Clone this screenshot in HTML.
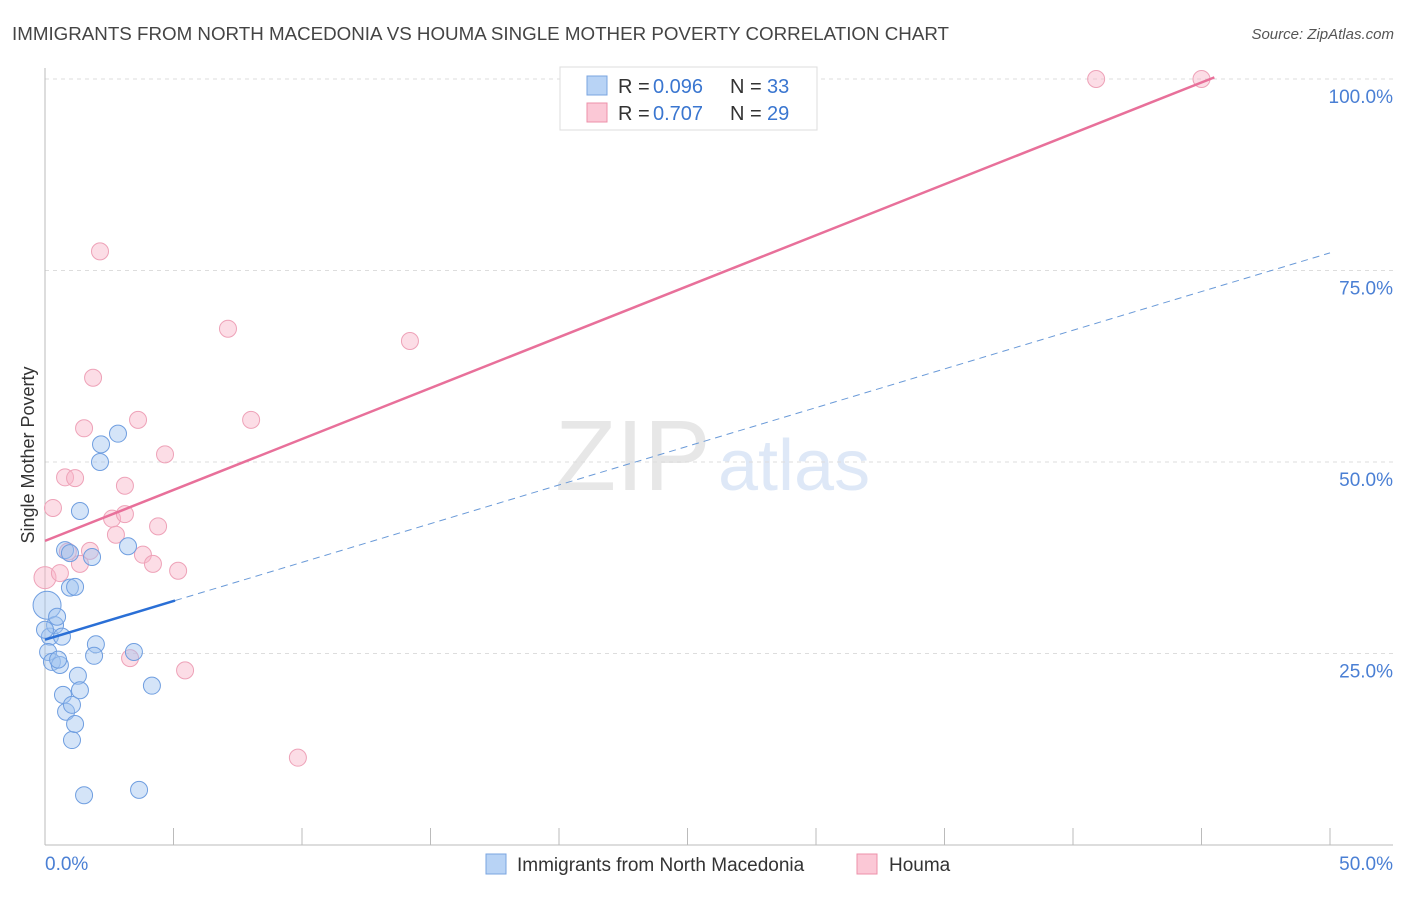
<!DOCTYPE html>
<html><head><meta charset="utf-8">
<style>
body{margin:0;background:#fff;font-family:"Liberation Sans",sans-serif;}
svg text{font-family:"Liberation Sans",sans-serif;}
</style></head>
<body>
<svg id="chart" width="1406" height="892" xmlns="http://www.w3.org/2000/svg">
<text x="12" y="40" font-size="18" fill="#444" textLength="937" lengthAdjust="spacingAndGlyphs">IMMIGRANTS FROM NORTH MACEDONIA VS HOUMA SINGLE MOTHER POVERTY CORRELATION CHART</text>
<text x="1394" y="39" font-size="15" fill="#555" font-style="italic" text-anchor="end">Source: ZipAtlas.com</text>
<g>
<text x="555" y="490" font-size="100" fill="#ddd" font-family="Liberation Serif" opacity="0.7">ZIP</text>
<text x="718" y="490" font-size="72" fill="#c9daf2" opacity="0.6">atlas</text>
</g>
<g id="grid"></g>
<g id="axes"></g>
<g id="marks"></g>
<text transform="translate(34,455) rotate(-90)" font-size="18" fill="#333" text-anchor="middle">Single Mother Poverty</text>
<g>
<rect x="560" y="67" width="257" height="63" fill="#fff" stroke="#ddd"/>
<rect x="587" y="76" width="20" height="19" fill="#b8d3f5" stroke="#7aa5e0"/>
<rect x="587" y="103" width="20" height="19" fill="#fbc8d6" stroke="#ec90aa"/>
<text x="618" y="93" font-size="20" fill="#333">R =</text>
<text x="653" y="93" font-size="20" fill="#3a76d0">0.096</text>
<text x="730" y="93" font-size="20" fill="#333">N =</text>
<text x="767" y="93" font-size="20" fill="#3a76d0">33</text>
<text x="618" y="120" font-size="20" fill="#333">R =</text>
<text x="653" y="120" font-size="20" fill="#3a76d0">0.707</text>
<text x="730" y="120" font-size="20" fill="#333">N =</text>
<text x="767" y="120" font-size="20" fill="#3a76d0">29</text>
</g>
<g>
<rect x="486" y="854" width="20" height="20" fill="#b8d3f5" stroke="#7aa5e0"/>
<text x="517" y="871" font-size="19" fill="#333">Immigrants from North Macedonia</text>
<rect x="857" y="854" width="20" height="20" fill="#fbc8d6" stroke="#ec90aa"/>
<text x="889" y="871" font-size="19" fill="#333">Houma</text>
</g>
</svg>
<script>
const blueX=[0.08,0.19,0.12,0.27,0.39,0.47,0.58,0.66,0.51,0.70,0.82,1.05,1.05,1.17,1.28,1.36,1.52,0.78,0.97,0.97,1.17,1.36,1.83,1.98,1.91,2.18,2.14,2.84,3.23,3.46,3.66,4.16,0];
const blueY=[31.3,27.2,25.2,23.9,28.7,29.8,23.5,27.2,24.2,19.6,17.4,18.3,13.7,15.8,22.1,20.2,6.5,38.5,38.1,33.6,33.7,43.6,37.6,26.2,24.7,52.3,50.0,53.7,39.0,25.2,7.2,20.8,28.1];
const pinkX=[0,0.31,0.58,0.78,1.17,0.89,1.36,1.52,1.75,1.87,2.14,2.61,2.76,3.11,3.11,3.31,3.62,3.81,4.20,4.40,4.67,5.18,5.45,7.12,8.02,9.84,14.2,40.9,45.0];
const pinkY=[34.9,44.0,35.5,48.0,47.9,38.3,36.7,54.4,38.4,61.0,77.5,42.6,40.5,46.9,43.2,24.4,55.5,37.9,36.7,41.6,51.0,35.8,22.8,67.4,55.5,11.4,65.8,100,100];
const blueTrend=[26.8,1.01];
const pinkTrend=[39.7,1.33];
const yTicks=[25,50,75,100];
const xTickLabels=["0.0%","50.0%"];
const X=v=>45+v*25.7, Y=v=>845-v*7.66;
const NS="http://www.w3.org/2000/svg";
function mk(parent,tag,attrs){const e=document.createElementNS(NS,tag);for(const k in attrs)e.setAttribute(k,attrs[k]);document.getElementById(parent).appendChild(e);return e;}
yTicks.forEach(t=>{
 const l=mk('grid','line',{x1:45,x2:1393,y1:Y(t),y2:Y(t),stroke:'#ddd','stroke-dasharray':'4,4'});
 
 
 const tx=mk('axes','text',{x:1393,y:Y(t)+24,'font-size':19,fill:'#4a7fd4','text-anchor':'end'});
 tx.textContent=t.toFixed(1)+'%';
 
 
});
let ax=mk('axes','line',{x1:45,x2:45,y1:68,y2:845,stroke:'#bbb'});


ax=mk('axes','line',{x1:45,x2:1393,y1:845,y2:845,stroke:'#bbb'});


for(let i=0;i<=10;i++){const t=mk('axes','line',{x1:X(i*5),x2:X(i*5),y1:828,y2:845,stroke:'#bbb'});
 
 }
[[0,'start',45],[50,'end',1393]].forEach((d,i)=>{const t=mk('axes','text',{x:d[2],y:870,'font-size':19,fill:'#4a7fd4','text-anchor':d[1]});t.textContent=xTickLabels[i];
 
 });
pinkX.forEach((x,i)=>{const c=mk('marks','circle',{cx:X(x),cy:Y(pinkY[i]),r:x===0?11:8.5,fill:'rgba(248,180,200,0.45)',stroke:'#eea2b8','stroke-width':1});
 
 });
blueX.forEach((x,i)=>{const c=mk('marks','circle',{cx:X(x),cy:Y(blueY[i]),r:i===0?14:8.5,fill:'rgba(160,195,240,0.45)',stroke:'#6f9ee0','stroke-width':1});
 
 });
let l=mk('marks','line',{x1:X(5.06),y1:Y(blueTrend[0]+blueTrend[1]*5.06),x2:X(50),y2:Y(blueTrend[0]+blueTrend[1]*50),stroke:'#6a9ad8','stroke-width':1,'stroke-dasharray':'7,5'});


l=mk('marks','line',{x1:X(0),y1:Y(blueTrend[0]),x2:X(5.06),y2:Y(blueTrend[0]+blueTrend[1]*5.06),stroke:'#2a6fd6','stroke-width':2.5});


l=mk('marks','line',{x1:X(0),y1:Y(pinkTrend[0]),x2:X(45.5),y2:Y(pinkTrend[0]+pinkTrend[1]*45.5),stroke:'#e8709a','stroke-width':2.5});


</script>
</body></html>
